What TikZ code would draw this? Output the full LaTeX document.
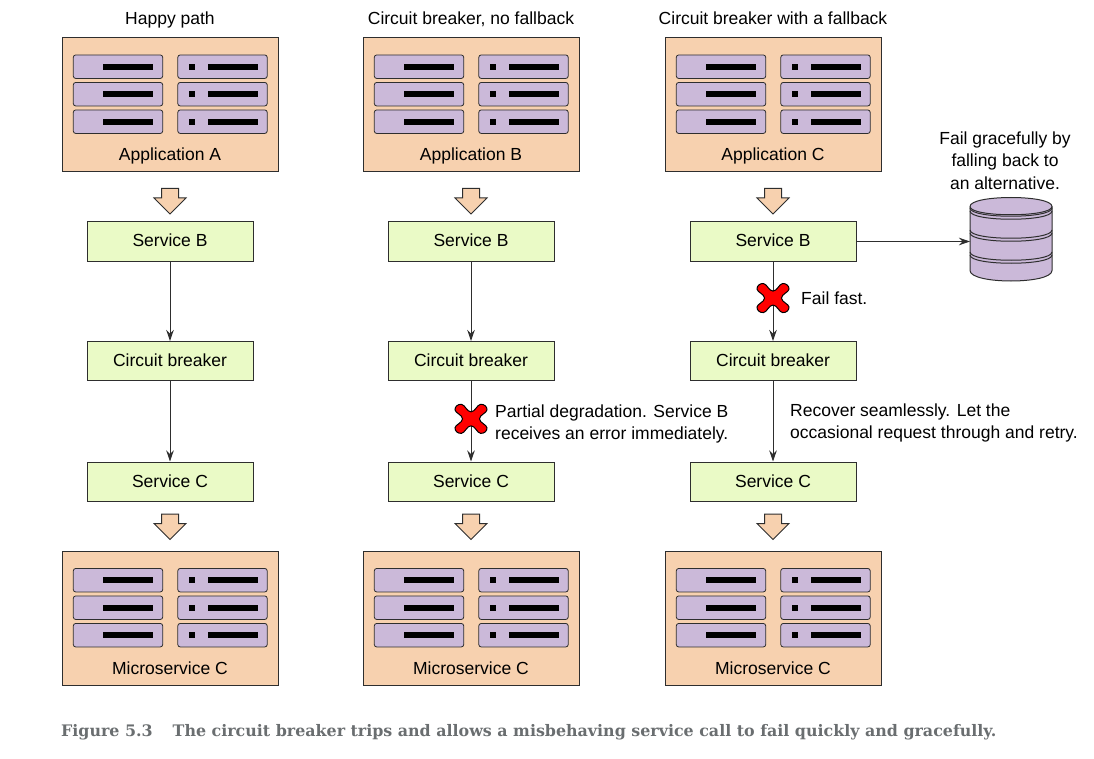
\documentclass[tikz,border=0pt]{standalone}
\usepackage{fontspec}
\setmainfont{Liberation Sans}
\newfontfamily\captionfont{DejaVu Serif}
\usetikzlibrary{arrows.meta,shapes.arrows}
\definecolor{panelfill}{HTML}{F7D1AF}
\definecolor{rackfill}{HTML}{CBB9D9}
\definecolor{servicefill}{HTML}{EAFAC6}
\definecolor{edgegray}{HTML}{2E2E2E}
\definecolor{captiongray}{HTML}{6A6E70}
\tikzset{
  rackslots/.pic={
    \foreach \rowy [count=\row] in {-38.3,-10.8,16.7} {
      \node[rack] (-l\row) at (-52,\rowy) {};
      \node[rack] (-r\row) at (52.5,\rowy) {};
      \fill (-67,\rowy-3) rectangle (-17,\rowy+3);
      \fill (37.5,\rowy-3) rectangle (88,\rowy+3);
      \fill (19,\rowy-3) rectangle (25,\rowy+3);
    }
  },
  failmark/.pic={
    \draw[fill=red, draw=black, line width=1pt] plot[smooth cycle, tension=0.8] coordinates {
      (0,-7) (9.5,-14.5) (16,-9) (8.5,0) (16,9) (9.5,14.5)
      (0,7) (-9.5,14.5) (-16,9) (-8.5,0) (-16,-9) (-9.5,-14.5)};
  },
  diskstack/.pic={
    \draw[fill=rackfill, draw=edgegray, line width=1pt] (-41,-33) .. controls (-41,-45) and (41,-45) .. (41,-33)
      -- (41,31) .. controls (41,45) and (-41,45) .. (-41,31) -- cycle;
    \draw[edgegray, line width=1pt] (-41,-33) .. controls (-41,-22) and (41,-22) .. (41,-33);
    \foreach \bandy in {-31.5,-9.5,12.5} {
      \draw[edgegray, line width=1pt] (-41,\bandy) .. controls (-41,\bandy+11) and (41,\bandy+11) .. (41,\bandy);
      \draw[edgegray, line width=1pt] (-41,\bandy+3) .. controls (-41,\bandy+14) and (41,\bandy+14) .. (41,\bandy+3);
    }
  }
}
\begin{document}
\begin{tikzpicture}[
  x=1pt, y=-1pt,
  panel/.style={rectangle, draw=edgegray, fill=panelfill, line width=1pt, minimum width=216pt, minimum height=134pt, inner sep=0pt},
  rack/.style={rectangle, rounded corners=2.5pt, draw=edgegray, fill=rackfill, line width=0.8pt, minimum width=89.5pt, minimum height=23.5pt, inner sep=0pt},
  block/.style={rectangle, draw=edgegray, fill=servicefill, line width=1pt, minimum width=166pt, minimum height=39pt, inner sep=0pt, text height=12.5pt, text depth=1.5pt},
  flow/.style={single arrow, draw=edgegray, fill=panelfill, line width=1pt, shape border rotate=270, minimum width=31pt, minimum height=25.5pt, single arrow head extend=7.5pt, inner xsep=8pt, inner ysep=0pt},
  every node/.style={font=\fontsize{17.5pt}{22.5pt}\selectfont},
  heading/.style={text height=12.5pt, text depth=3.7pt},
  >={Stealth[length=11pt,width=7.5pt]},
  link/.style={->,edgegray,line width=1pt},
  note/.style={anchor=west, align=left, inner sep=0pt}
]
\useasboundingbox (0,0) rectangle (1094,759);

% Happy path
\node[panel] (appa) at (170,105) {};
\node[heading, above of=appa, node distance=85pt] (titlea) {Happy path};
\node[below of=appa, node distance=50.5pt] (labela) {Application A};
\node[flow, below of=appa, node distance=92pt] (flowa) {};
\node[block, below of=appa, node distance=136.5pt] (svcba) {Service B};
\node[block, below of=svcba, node distance=119.5pt] (breakera) {Circuit breaker};
\node[block, below of=breakera, node distance=120.5pt] (svcca) {Service C};
\node[flow, below of=svcca, node distance=41pt] (flowma) {};
\node[panel, below of=svcca, node distance=137pt] (msa) {};
\node[below of=msa, node distance=49.5pt] (labelma) {Microservice C};

% No fallback
\node[panel] (appb) at (471,105) {};
\node[heading, above of=appb, node distance=85pt] (titleb) {Circuit breaker, no fallback};
\node[below of=appb, node distance=50.5pt] (labelb) {Application B};
\node[flow, below of=appb, node distance=92pt] (flowb) {};
\node[block, below of=appb, node distance=136.5pt] (svcbb) {Service B};
\node[block, below of=svcbb, node distance=119.5pt] (breakerb) {Circuit breaker};
\node[block, below of=breakerb, node distance=120.5pt] (svccb) {Service C};
\node[flow, below of=svccb, node distance=41pt] (flowmb) {};
\node[panel, below of=svccb, node distance=137pt] (msb) {};
\node[below of=msb, node distance=49.5pt] (labelmb) {Microservice C};

% With a fallback
\node[panel] (appc) at (773,105) {};
\node[heading, above of=appc, node distance=85pt] (titlec) {Circuit breaker with a fallback};
\node[below of=appc, node distance=50.5pt] (labelc) {Application C};
\node[flow, below of=appc, node distance=92pt] (flowc) {};
\node[block, below of=appc, node distance=136.5pt] (svcbc) {Service B};
\node[block, below of=svcbc, node distance=119.5pt] (breakerc) {Circuit breaker};
\node[block, below of=breakerc, node distance=120.5pt] (svccc) {Service C};
\node[flow, below of=svccc, node distance=41pt] (flowmc) {};
\node[panel, below of=svccc, node distance=137pt] (msc) {};
\node[below of=msc, node distance=49.5pt] (labelmc) {Microservice C};

% Racks
\pic (racksa) at (appa) {rackslots};
\pic (racksma) at (msa) {rackslots};
\pic (racksb) at (appb) {rackslots};
\pic (racksmb) at (msb) {rackslots};
\pic (racksc) at (appc) {rackslots};
\pic (racksmc) at (msc) {rackslots};

% Store
\coordinate (store) at (1011,239.5);
\coordinate (storeedge) at (970,241.5);
\pic at (store) {diskstack};
\node[align=center, above of=store, node distance=79pt, xshift=-6pt] (storenote) {Fail gracefully by\\falling back to\\an alternative.};

% Connections
\draw[link] (svcba) -- (breakera);
\draw[link] (breakera) -- (svcca);
\draw[link] (svcbb) -- (breakerb);
\draw[link] (breakerb) -- (svccb) coordinate[pos=0.47] (failb);
\draw[link] (svcbc) -- (breakerc) coordinate[pos=0.46] (failc);
\draw[link] (breakerc) -- (svccc);
\draw[link] (svcbc) -- (storeedge);

% Failures
\pic at (failb) {failmark};
\pic at (failc) {failmark};
\node[right of=failc, node distance=28pt, note] (failnote) {Fail fast.};
\node[right of=failb, node distance=24pt, yshift=-5pt, note] (partialnote) {Partial degradation. Service B\\receives an error immediately.};
\node[note] (recovernote) at (790,423) {Recover seamlessly. Let the\\occasional request through and retry.};

% Caption
\node[anchor=west, inner sep=0pt, text=captiongray, font=\captionfont\bfseries\fontsize{15.87pt}{20pt}\selectfont] (caption) at (61,732.5) {Figure 5.3\hspace{20pt}The circuit breaker trips and allows a misbehaving service call to fail quickly and gracefully.};
\end{tikzpicture}
\end{document}
